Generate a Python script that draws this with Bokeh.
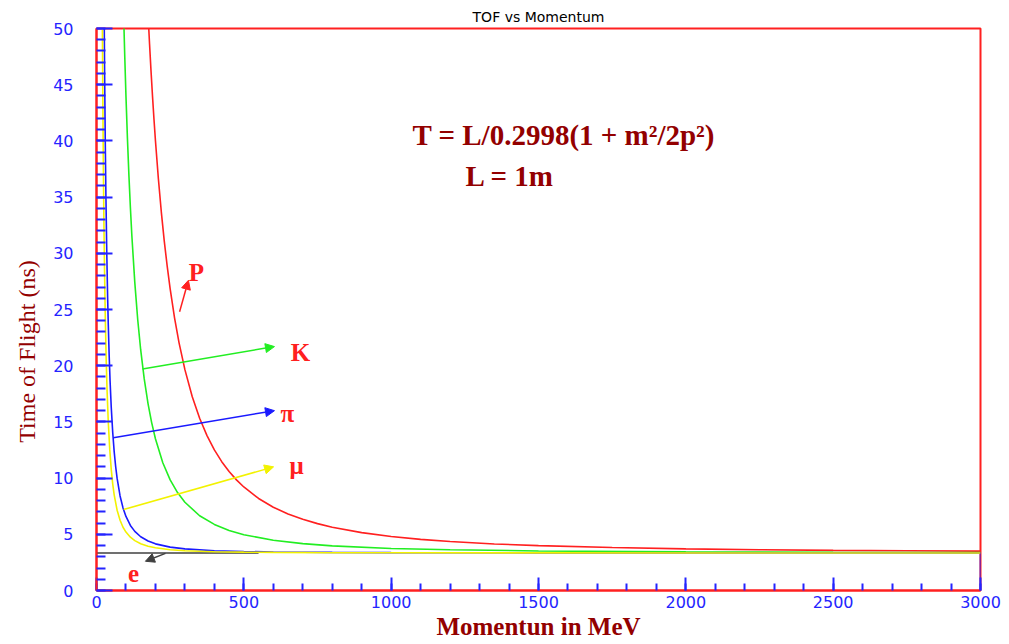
from bokeh.plotting import figure
from bokeh.models import Range1d, FixedTicker, Arrow, NormalHead, Label
from bokeh.embed import file_html
from bokeh.resources import INLINE

# ---- data (momentum in MeV, time of flight in ns) ----
p_proton = [177, 180, 185, 190, 195, 200, 210, 220, 230, 240, 250, 265, 280, 300, 325, 350, 375, 400,
            425, 450, 475, 500, 550, 600, 650, 700, 750, 800, 900, 1000, 1100, 1200, 1350, 1500,
            1750, 2000, 2250, 2500, 2750, 3000]
t_proton = [50.2, 48.65, 46.23, 44.01, 41.95, 40.04, 36.63, 33.67, 31.09, 28.83, 26.83, 24.24, 22.06,
            19.65, 17.24, 15.32, 13.78, 12.51, 11.46, 10.59, 9.84, 9.21, 8.19, 7.41, 6.81, 6.33, 5.95,
            5.63, 5.15, 4.80, 4.55, 4.36, 4.14, 3.99, 3.82, 3.70, 3.63, 3.57, 3.53, 3.50]

p_kaon = [93, 96, 100, 105, 110, 115, 120, 130, 140, 150, 162, 175, 187, 200, 225, 250, 275, 300, 350,
          400, 450, 500, 600, 700, 800, 1000, 1200, 1500, 2000, 2500, 3000]
t_kaon = [50.3, 47.44, 43.98, 40.20, 36.93, 34.07, 31.56, 27.39, 24.07, 21.40, 18.82, 16.61, 14.96,
          13.50, 11.37, 9.84, 8.71, 7.85, 6.65, 5.88, 5.34, 4.96, 4.47, 4.17, 3.97, 3.74, 3.62, 3.52,
          3.44, 3.40, 3.38]

p_pion = [26.4, 27, 28, 29, 30, 32, 35, 38, 40, 43, 46, 50, 55, 60, 65, 70, 80, 90, 100, 115, 130, 150,
          175, 200, 250, 300, 400, 500, 600, 800, 1000, 1500, 2000, 3000, 3000]
t_pion = [49.95, 47.90, 44.78, 41.97, 39.43, 35.06, 29.86, 25.83, 23.64, 20.91, 18.69, 16.33, 14.08,
          12.36, 11.03, 9.97, 8.41, 7.35, 6.59, 5.79, 5.26, 4.78, 4.40, 4.15, 3.86, 3.70, 3.54, 3.47,
          3.43, 3.39, 3.37, 3.35, 3.344, 3.339, 0.0]

p_muon = [20, 21, 22, 23.5, 25, 27, 30, 33, 36, 40, 45, 50, 55, 60, 70, 80, 90, 100, 115, 130, 150, 175,
          200, 250, 300, 400, 500, 600, 800, 1000, 1500, 3000]
t_muon = [49.88, 45.56, 41.81, 37.05, 33.13, 28.88, 24.02, 20.43, 17.70, 14.97, 12.53, 10.78, 9.49,
          8.51, 7.14, 6.25, 5.63, 5.20, 4.74, 4.44, 4.16, 3.94, 3.80, 3.63, 3.54, 3.45, 3.41, 3.39,
          3.365, 3.354, 3.344, 3.338]

p_electron = [0, 550]
t_electron = [3.34, 3.34]

x_ticks = [0, 500, 1000, 1500, 2000, 2500, 3000]
y_ticks = [0, 5, 10, 15, 20, 25, 30, 35, 40, 45, 50]
x_minor = list(range(0, 3001, 100))
y_minor = list(range(0, 51, 1))

RED = "#ff2020"
GREEN = "#22ee22"
BLUE = "#1a1aff"
YELLOW = "#f2f200"
BLACK = "#404040"
DARKRED = "#930000"
TICKBLUE = "#2424ff"

p = figure(width=1009, height=644,
           x_range=Range1d(0, 3000), y_range=Range1d(0, 50),
           output_backend="svg", toolbar_location=None,
           min_border_left=96, min_border_right=29,
           min_border_top=28, min_border_bottom=54,
           title="TOF vs Momentum")

p.title.align = "center"
p.title.offset = 18
p.title.standoff = 7
p.title.text_font = "DejaVu Sans"
p.title.text_font_size = "14px"
p.title.text_font_style = "normal"
p.title.text_color = "black"

p.xgrid.visible = False
p.ygrid.visible = False
p.outline_line_color = RED
p.outline_line_width = 2
p.background_fill_color = "white"
p.border_fill_color = "white"

p.xaxis.ticker = FixedTicker(ticks=x_ticks, minor_ticks=x_minor)
p.yaxis.ticker = FixedTicker(ticks=y_ticks, minor_ticks=y_minor)

for ax in (p.xaxis, p.yaxis):
    ax.axis_line_color = RED
    ax.axis_line_width = 2
    ax.major_tick_line_color = TICKBLUE
    ax.minor_tick_line_color = TICKBLUE
    ax.major_tick_line_width = 2
    ax.minor_tick_line_width = 2
    ax.major_tick_out = 0
    ax.minor_tick_out = 0
    ax.major_label_text_color = TICKBLUE
    ax.major_label_text_font = "DejaVu Sans"
    ax.major_label_text_font_size = "16px"
    ax.axis_label_text_color = DARKRED
    ax.axis_label_text_font = "Liberation Serif"

p.xaxis.major_tick_in = 13
p.xaxis.minor_tick_in = 7
p.xaxis.major_label_standoff = 5
p.xaxis.axis_label = "Momentun in MeV"
p.xaxis.axis_label_text_font_style = "bold"
p.xaxis.axis_label_text_font_size = "25px"
p.xaxis.axis_label_standoff = 2

p.yaxis.major_tick_in = 16
p.yaxis.minor_tick_in = 9
p.yaxis.major_label_standoff = 23
# trailing no-break spaces shift the rotated title down, as in the reference
p.yaxis.axis_label = "Time of Flight (ns)" + "\u00a0" * 14
p.yaxis.axis_label_text_font_style = "normal"
p.yaxis.axis_label_text_font_size = "24px"
p.yaxis.axis_label_standoff = 10

# ---- curves ----
p.line(p_electron, t_electron, line_color=BLACK, line_width=1.6)
p.line(p_proton, t_proton, line_color=RED, line_width=1.6)
p.line(p_kaon, t_kaon, line_color=GREEN, line_width=1.6)
p.line(p_pion, t_pion, line_color=BLUE, line_width=1.6)
p.line(p_muon, t_muon, line_color=YELLOW, line_width=1.6)

# ---- arrows ----
def arrow(x0, y0, x1, y1, color):
    p.add_layout(Arrow(end=NormalHead(size=9, fill_color=color, line_color=color, line_width=1),
                       x_start=x0, y_start=y0, x_end=x1, y_end=y1,
                       line_color=color, line_width=1.5))

arrow(282, 24.8, 312, 27.6, RED)
arrow(156, 19.7, 604, 21.7, GREEN)
arrow(57, 13.6, 604, 16.0, BLUE)
arrow(92, 7.2, 601, 11.0, YELLOW)
arrow(234, 3.3, 166, 2.6, BLACK)

# ---- particle labels ----
def plabel(x, y, txt):
    p.add_layout(Label(x=x, y=y, text=txt, text_color=RED, text_font="Liberation Serif",
                       text_font_style="bold", text_font_size="25px",
                       text_align="center", text_baseline="alphabetic"))

plabel(339, 28.3, "P")
plabel(692, 21.2, "K")
plabel(648, 15.75, "π")
plabel(679, 11.1, "μ")
plabel(126, 1.5, "e")

# ---- formula ----
p.add_layout(Label(x=1072, y=40.5, text="T = L/0.2998(1 + m²/2p²)", text_color=DARKRED,
                   text_font="Liberation Serif", text_font_style="bold", text_font_size="29px",
                   text_align="left", text_baseline="alphabetic"))
p.add_layout(Label(x=1252, y=36.9, text="L = 1m", text_color=DARKRED,
                   text_font="Liberation Serif", text_font_style="bold", text_font_size="29px",
                   text_align="left", text_baseline="alphabetic"))

open("out.html", "w").write(file_html(p, INLINE))
